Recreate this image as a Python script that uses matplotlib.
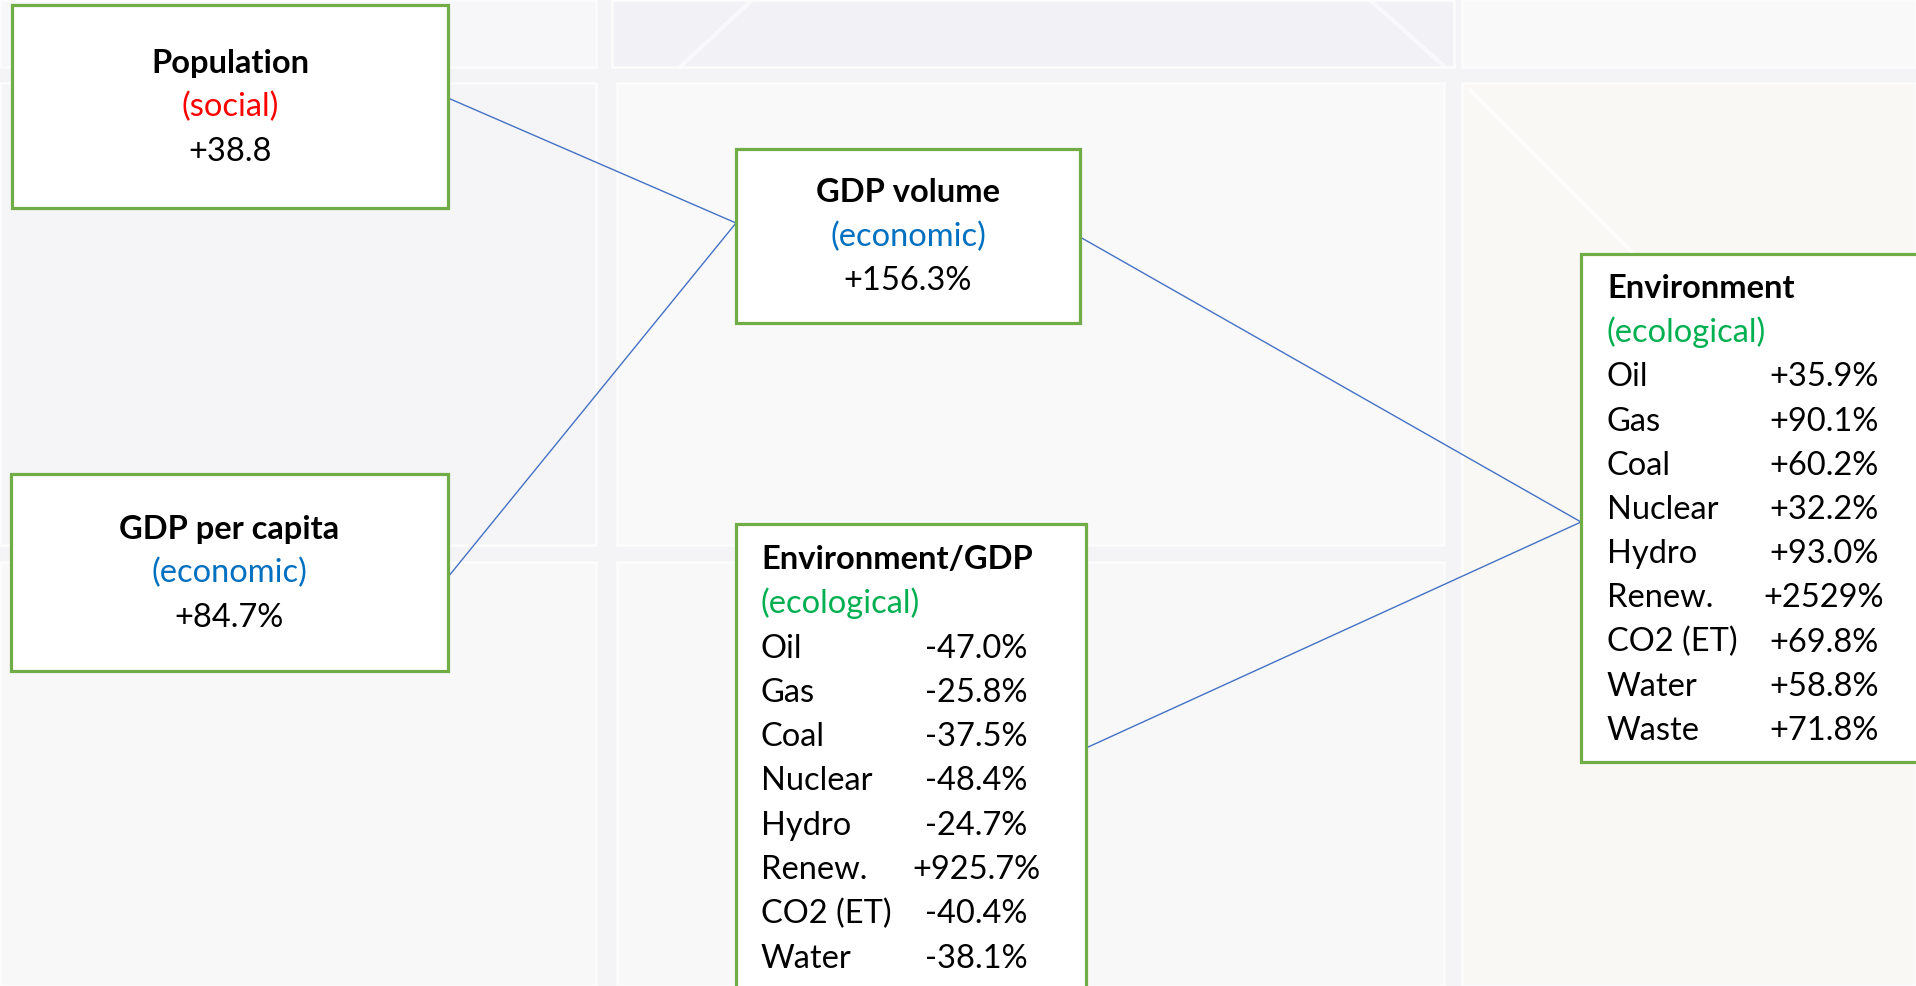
import matplotlib.pyplot as plt
from matplotlib.patches import Rectangle

plt.rcParams['font.family'] = ['Lato', 'DejaVu Sans']

# simple boxes: title, category, change
pop_title, pop_cat, pop_value = "Population", "(social)", "+38.8"
gdpv_title, gdpv_cat, gdpv_value = "GDP volume", "(economic)", "+156.3%"
gdpc_title, gdpc_cat, gdpc_value = "GDP per capita", "(economic)", "+84.7%"

# list boxes
intensity_title = "Environment/GDP"
intensity_items = ["Oil", "Gas", "Coal", "Nuclear", "Hydro", "Renew.", "CO2 (ET)", "Water"]
intensity_values = ["-47.0%", "-25.8%", "-37.5%", "-48.4%", "-24.7%", "+925.7%", "-40.4%", "-38.1%"]

env_title = "Environment"
env_items = ["Oil", "Gas", "Coal", "Nuclear", "Hydro", "Renew.", "CO2 (ET)", "Water", "Waste"]
env_values = ["+35.9%", "+90.1%", "+60.2%", "+32.2%", "+93.0%", "+2529%", "+69.8%", "+58.8%", "+71.8%"]
eco_label = "(ecological)"

RED, BLUE_TXT, GREEN_TXT = "#ff0000", "#0070c0", "#00b050"
BORDER, LINK = "#70ad47", "#4472c4"
FS = 23.5

W, H = 1916, 986
fig = plt.figure(figsize=(W / 100, H / 100), dpi=100)
ax = fig.add_axes([0, 0, 1, 1])
ax.set_xlim(0, W)
ax.set_ylim(H, 0)
ax.axis("off")
fig.patch.set_facecolor("#f4f4f6")

# faint background panels (slide template)
panels = [
    (0, 0, 596, 67, "#f7f7f9"), (612, 0, 842, 67, "#f2f2f6"), (1462, 0, 454, 67, "#f9f9fa"),
    (0, 83, 596, 462, "#f5f5f7"), (617, 83, 827, 462, "#f9f9fa"), (1462, 83, 454, 903, "#f9f8f5"),
    (0, 562, 596, 424, "#f8f8f9"), (617, 562, 827, 424, "#f8f8f9"),
]
for x, y, w, h, c in panels:
    ax.add_patch(Rectangle((x, y), w, h, facecolor=c, edgecolor="#fcfcfd", lw=1.8, zorder=0))
for xs, ys in [([680, 752], [67, 0]), ([1370, 1445], [0, 67]), ([1470, 1880], [90, 500])]:
    ax.plot(xs, ys, color="white", lw=3, alpha=0.6, zorder=0)

def box(x0, y0, x1, y1):
    ax.add_patch(Rectangle((x0, y0), x1 - x0, y1 - y0, facecolor="white",
                           edgecolor=BORDER, lw=2.3, zorder=2))

def simple_box(x0, y0, x1, y1, title, cat, cat_color, value):
    box(x0, y0, x1, y1)
    cx, cy = (x0 + x1) / 2, (y0 + y1) / 2
    ax.text(cx, cy - 33.5, title, ha="center", va="baseline", fontsize=FS, fontweight="bold", zorder=3)
    ax.text(cx, cy + 10, cat, ha="center", va="baseline", fontsize=FS, color=cat_color, zorder=3)
    ax.text(cx, cy + 54.5, value, ha="center", va="baseline", fontsize=FS, zorder=3)

def list_box(x0, y0, x1, y1, title, items, values, tx, vx, base, step):
    box(x0, y0, x1, y1)
    ax.text(tx, base, title, ha="left", va="baseline", fontsize=FS, fontweight="bold", zorder=3)
    ax.text(tx, base + step, eco_label, ha="left", va="baseline", fontsize=FS, color=GREEN_TXT, zorder=3)
    for i, (name, val) in enumerate(zip(items, values)):
        yb = base + step * (i + 2)
        ax.text(tx, yb, name, ha="left", va="baseline", fontsize=FS, zorder=3)
        ax.text(vx, yb, val, ha="center", va="baseline", fontsize=FS, zorder=3)

# connecting lines
links = [
    ((448, 98), (736, 223)),
    ((448, 577), (736, 223)),
    ((1080, 237), (1581, 522)),
    ((1086, 748), (1581, 522)),
]
for (xa, ya), (xb, yb) in links:
    ax.plot([xa, xb], [ya, yb], color=LINK, lw=1.0, zorder=1)

simple_box(12, 5, 448, 208, pop_title, pop_cat, RED, pop_value)
simple_box(736, 149, 1080, 323, gdpv_title, gdpv_cat, BLUE_TXT, gdpv_value)
simple_box(11, 474, 448, 671, gdpc_title, gdpc_cat, BLUE_TXT, gdpc_value)
list_box(736, 524, 1086, 1010, intensity_title, intensity_items, intensity_values,
         761, 976, 569, 44.3)
list_box(1581, 254, 1930, 762, env_title, env_items, env_values,
         1607, 1824, 298, 44.2)

fig.savefig("out.png", dpi=100, facecolor=fig.get_facecolor())
